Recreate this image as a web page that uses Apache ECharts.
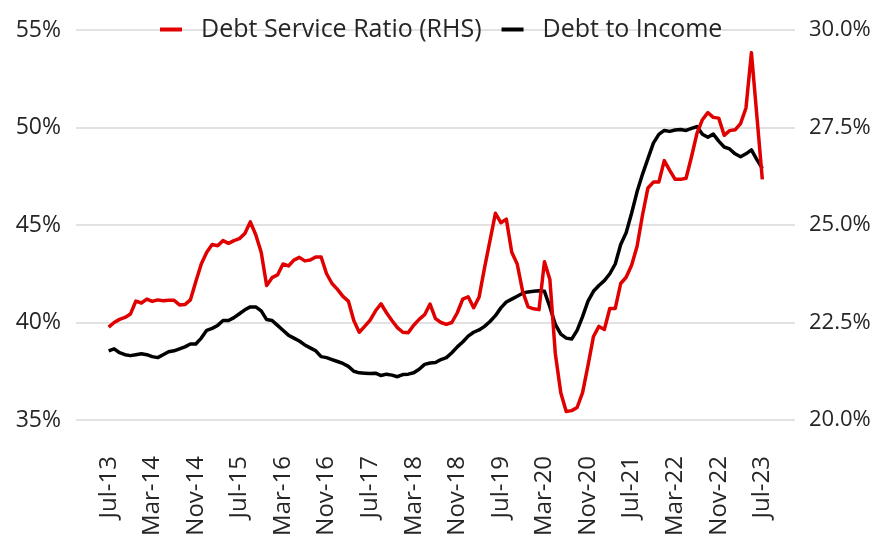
<!DOCTYPE html>
<html>
<head>
<meta charset="utf-8">
<script src="https://cdn.jsdelivr.net/npm/echarts@6/dist/echarts.min.js"></script>
<style>
html,body{margin:0;padding:0;background:#fff;}
#c{width:883px;height:540px;}
</style>
</head>
<body>
<div id="c"></div>
<script>
// Monthly categories Jul-13 .. Jul-23
const monthNames = ["Jan","Feb","Mar","Apr","May","Jun","Jul","Aug","Sep","Oct","Nov","Dec"];
const categories = [];
for (let k = 0; k < 121; k++) {
  const m = (6 + k) % 12;
  const y = 13 + Math.floor((6 + k) / 12);
  categories.push(monthNames[m] + "-" + y);
}
const tickLabels = ["Jul-13","Mar-14","Nov-14","Jul-15","Mar-16","Nov-16","Jul-17","Mar-18","Nov-18","Jul-19","Mar-20","Nov-20","Jul-21","Mar-22","Nov-22","Jul-23"];

// Debt to Income (LHS, %)
const debtToIncome = [
38.55,38.65,38.45,38.35,38.3,38.35,38.4,38.35,38.25,38.2,
38.35,38.5,38.55,38.65,38.75,38.9,38.9,39.2,39.6,39.7,
39.85,40.1,40.1,40.25,40.45,40.65,40.8,40.8,40.6,40.15,
40.1,39.85,39.6,39.35,39.2,39.05,38.85,38.7,38.55,38.25,
38.2,38.1,38.0,37.9,37.75,37.5,37.42,37.4,37.38,37.4,
37.28,37.35,37.3,37.22,37.33,37.35,37.42,37.6,37.85,37.92,
37.95,38.1,38.2,38.45,38.75,39.0,39.3,39.5,39.62,39.8,
40.05,40.35,40.75,41.05,41.2,41.35,41.5,41.57,41.6,41.63,
41.6,40.8,39.9,39.4,39.2,39.15,39.6,40.3,41.1,41.6,
41.9,42.15,42.5,43.0,44.0,44.6,45.6,46.7,47.6,48.4,
49.2,49.65,49.85,49.8,49.87,49.9,49.85,49.95,50.05,49.65,
49.5,49.66,49.3,49.0,48.9,48.65,48.5,48.65,48.85,48.35,
47.9
];

// Debt Service Ratio (RHS, %)
const debtServiceRatio = [
22.38,22.5,22.58,22.63,22.72,23.05,23.0,23.1,23.04,23.08,
23.06,23.07,23.07,22.95,22.96,23.08,23.55,24.0,24.3,24.5,
24.47,24.6,24.53,24.6,24.65,24.78,25.08,24.75,24.3,23.45,
23.65,23.72,24.0,23.95,24.1,24.17,24.08,24.1,24.18,24.18,
23.75,23.5,23.35,23.17,23.05,22.55,22.25,22.4,22.56,22.8,
22.98,22.75,22.55,22.37,22.25,22.24,22.43,22.58,22.7,22.97,
22.6,22.5,22.45,22.5,22.75,23.1,23.16,22.88,23.15,23.9,
24.6,25.3,25.06,25.15,24.3,24.0,23.3,22.9,22.85,22.83,
24.06,23.6,21.7,20.7,20.22,20.24,20.32,20.7,21.4,22.14,
22.4,22.32,22.86,22.86,23.5,23.66,23.97,24.45,25.25,25.95,
26.1,26.1,26.65,26.4,26.17,26.17,26.2,26.75,27.35,27.7,
27.88,27.76,27.74,27.3,27.42,27.44,27.6,28.0,29.42,27.8,
26.17
];

const PAD = 6;
const padArr = n => new Array(n).fill('');
const padNull = n => new Array(n).fill('-');
const axisCats = padArr(PAD).concat(categories, padArr(PAD));
const dsrData = padNull(PAD).concat(debtServiceRatio, padNull(PAD));
const dtiData = padNull(PAD).concat(debtToIncome, padNull(PAD));

const FONT = "Open Sans";
const TXT = "#262626";
const chart = echarts.init(document.getElementById('c'), null, {renderer:'canvas'});
chart.setOption({
  animation: false,
  backgroundColor: '#ffffff',
  textStyle: {fontFamily: FONT},
  grid: {left: 76, right: 88, top: 30, bottom: 120, containLabel: false},
  legend: {
    left: 155, top: 12,
    itemWidth: 22, itemHeight: 4, itemGap: 20,
    icon: 'rect',
    textStyle: {fontFamily: FONT, fontSize: 25, color: TXT, padding: [0,0,0,14]},
    data: ['Debt Service Ratio (RHS)', 'Debt to Income']
  },
  xAxis: {
    type: 'category',
    data: axisCats,
    boundaryGap: false,
    axisLine: {show: false},
    axisTick: {show: false},
    splitLine: {show: false},
    axisLabel: {
      interval: (idx, val) => val !== '' && tickLabels.indexOf(val) >= 0,
      rotate: 90,
      margin: 36,
      fontFamily: FONT, fontSize: 24, color: TXT
    }
  },
  yAxis: [
    {
      type: 'value', min: 35, max: 55, interval: 5, position: 'left',
      axisLine: {show: false}, axisTick: {show: false},
      splitLine: {lineStyle: {color: '#d9d9d9', width: 1.5}},
      axisLabel: {formatter: '{value}%', margin: 15, fontFamily: FONT, fontSize: 23, color: TXT}
    },
    {
      type: 'value', min: 20, max: 30, interval: 2.5, position: 'right',
      axisLine: {show: false}, axisTick: {show: false},
      splitLine: {show: false},
      axisLabel: {formatter: v => v.toFixed(1) + '%', margin: 14, fontFamily: FONT, fontSize: 22, color: TXT}
    }
  ],
  series: [
    {
      name: 'Debt Service Ratio (RHS)', type: 'line', yAxisIndex: 1,
      data: dsrData, showSymbol: false, symbol: 'none', z: 3,
      itemStyle: {color: '#e00000'},
      lineStyle: {color: '#e00000', width: 3.5, join: 'round'}
    },
    {
      name: 'Debt to Income', type: 'line', yAxisIndex: 0,
      data: dtiData, showSymbol: false, symbol: 'none', z: 2,
      itemStyle: {color: '#000000'},
      lineStyle: {color: '#000000', width: 3.5, join: 'round'}
    }
  ]
});
</script>
</body>
</html>
